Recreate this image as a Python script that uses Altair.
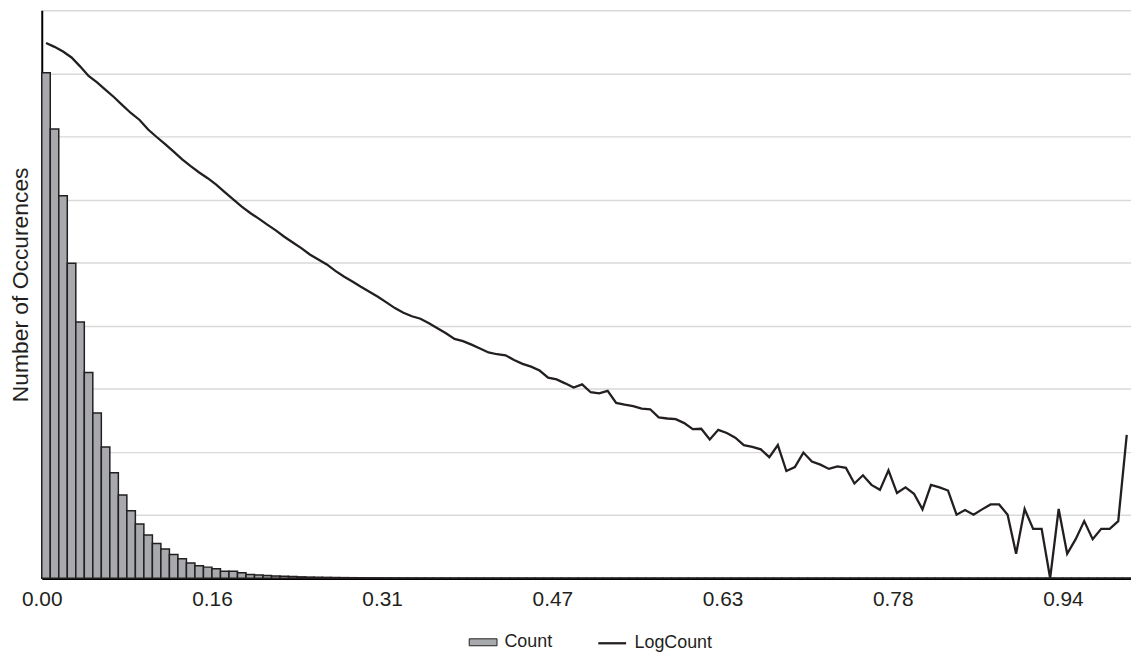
import altair as alt
import pandas as pd

N_BINS = 128

counts = [
    4005000, 3560000, 3030000, 2495000, 2030000, 1630000, 1310000, 1040000, 835000, 660000,
    535000, 430000, 342000, 276000, 232000, 188000, 154000, 120000, 99000, 88000,
    76000, 55000, 55000, 44000, 30000, 25000, 21000, 18000, 15000, 12800,
    10900, 9100, 7900, 6900, 5800, 4900, 4300, 3700, 3200, 2800,
    2400, 2000, 1770, 1600, 1500, 1310, 1140, 990, 845, 796,
    721, 645, 578, 550, 534, 469, 420, 388, 347, 284,
    270, 242, 215, 235, 189, 183, 196, 140, 133, 128,
    119, 117, 93, 90, 88, 79, 67, 67, 50, 65,
    60, 52, 43, 40, 38, 30, 43, 20, 23, 34,
    27, 25, 22, 23, 22, 14, 18, 14, 12, 21,
    11, 13, 11, 7, 14, 13, 12, 6, 7, 6,
    7, 8, 8, 6, 2, 7, 4, 4, 1, 7,
    2, 3, 5, 3, 4, 4, 5, 57,
]

log_counts = [
    15.08, 14.97, 14.84, 14.67, 14.42, 14.15, 13.97, 13.76, 13.55, 13.32,
    13.10, 12.91, 12.64, 12.43, 12.23, 12.02, 11.80, 11.61, 11.43, 11.27,
    11.09, 10.88, 10.67, 10.47, 10.29, 10.13, 9.96, 9.80, 9.62, 9.46,
    9.30, 9.12, 8.98, 8.84, 8.66, 8.50, 8.36, 8.21, 8.07, 7.93,
    7.77, 7.61, 7.48, 7.38, 7.31, 7.18, 7.04, 6.90, 6.74, 6.68,
    6.58, 6.47, 6.36, 6.31, 6.28, 6.15, 6.04, 5.96, 5.85, 5.65,
    5.60, 5.49, 5.37, 5.46, 5.24, 5.21, 5.28, 4.94, 4.89, 4.85,
    4.78, 4.76, 4.53, 4.50, 4.48, 4.37, 4.20, 4.21, 3.91, 4.18,
    4.09, 3.96, 3.75, 3.70, 3.63, 3.41, 3.75, 3.02, 3.13, 3.54,
    3.29, 3.20, 3.08, 3.15, 3.11, 2.67, 2.90, 2.63, 2.49, 3.04,
    2.40, 2.56, 2.38, 1.94, 2.63, 2.56, 2.47, 1.79, 1.92, 1.79,
    1.94, 2.08, 2.08, 1.79, 0.69, 1.95, 1.39, 1.39, 0.00, 1.95,
    0.69, 1.10, 1.61, 1.10, 1.39, 1.39, 1.61, 4.04,
]

x_ticks = [0.0, 0.15625, 0.3125, 0.46875, 0.625, 0.78125, 0.9375]
count_grid = [0, 500000, 1000000, 1500000, 2000000, 2500000, 3000000,
              3500000, 4000000, 4500000]

series_names = ["Count", "LogCount"]

df = pd.DataFrame({
    "bin_start": [i / N_BINS for i in range(N_BINS)],
    "bin_end": [(i + 1) / N_BINS for i in range(N_BINS)],
    "mid": [(i + 0.5) / N_BINS for i in range(N_BINS)],
    "Count": counts,
    "LogCount": log_counts,
})

FONT = "Liberation Sans"
INK = "#231f20"

x_scale = alt.Scale(domain=[0, 1], nice=False, zero=True)
x_axis = alt.Axis(
    values=x_ticks, format=".2f", title=None, grid=False, ticks=False,
    labelFont=FONT, labelFontSize=21, labelColor=INK, labelPadding=10,
    labelFlush=False, domainColor="#000000", domainWidth=2.5,
)

base = alt.Chart(df)

bars = base.transform_calculate(s1="'Count'").mark_bar(
    stroke=INK, strokeWidth=1.5
).encode(
    x=alt.X("bin_start:Q", scale=x_scale, axis=x_axis),
    x2="bin_end:Q",
    y=alt.Y(
        "Count:Q",
        scale=alt.Scale(domain=[0, 4500000], nice=False),
        axis=alt.Axis(
            values=count_grid, labels=False, ticks=False, grid=True,
            gridColor="#d9d9d9", gridWidth=1.5,
            domainColor="#000000", domainWidth=2,
            title="Number of Occurences", titleFont=FONT, titleFontSize=23,
            titleFontWeight="normal", titleColor=INK, titlePadding=9,
            titleY=276,
        ),
    ),
    y2=alt.datum(0),
    fill=alt.Fill(
        "s1:N",
        scale=alt.Scale(domain=[series_names[0]], range=["#a7a9ac"]),
        legend=alt.Legend(
            title=None, orient="none", legendX=430, legendY=622,
            symbolType="M-1,-0.25L1,-0.25L1,0.25L-1,0.25Z", symbolSize=784,
            symbolStrokeColor=INK, symbolStrokeWidth=1,
            labelFont=FONT, labelFontSize=18, labelColor=INK, labelOffset=7,
        ),
    ),
)

line = base.transform_calculate(s2="'LogCount'").mark_line(strokeWidth=2.3).encode(
    x=alt.X("mid:Q", scale=x_scale, axis=x_axis),
    y=alt.Y("LogCount:Q", scale=alt.Scale(domain=[0, 16], nice=False), axis=None),
    stroke=alt.Stroke(
        "s2:N",
        scale=alt.Scale(domain=[series_names[1]], range=[INK]),
        legend=alt.Legend(
            title=None, orient="none", legendX=559, legendY=622,
            symbolType="stroke", symbolSize=784, symbolStrokeWidth=2.3,
            labelFont=FONT, labelFontSize=18, labelColor=INK, labelOffset=7,
        ),
    ),
)

chart = alt.layer(bars, line).resolve_scale(y="independent").properties(
    width=1097, height=572,
    autosize=alt.AutoSizeParams(type="none"),
    padding={"left": 34, "top": 0, "right": 0, "bottom": 72},
    background="white",
).configure_view(stroke=None)

chart.save("out.html", embed_options={"renderer": "svg", "actions": False})
